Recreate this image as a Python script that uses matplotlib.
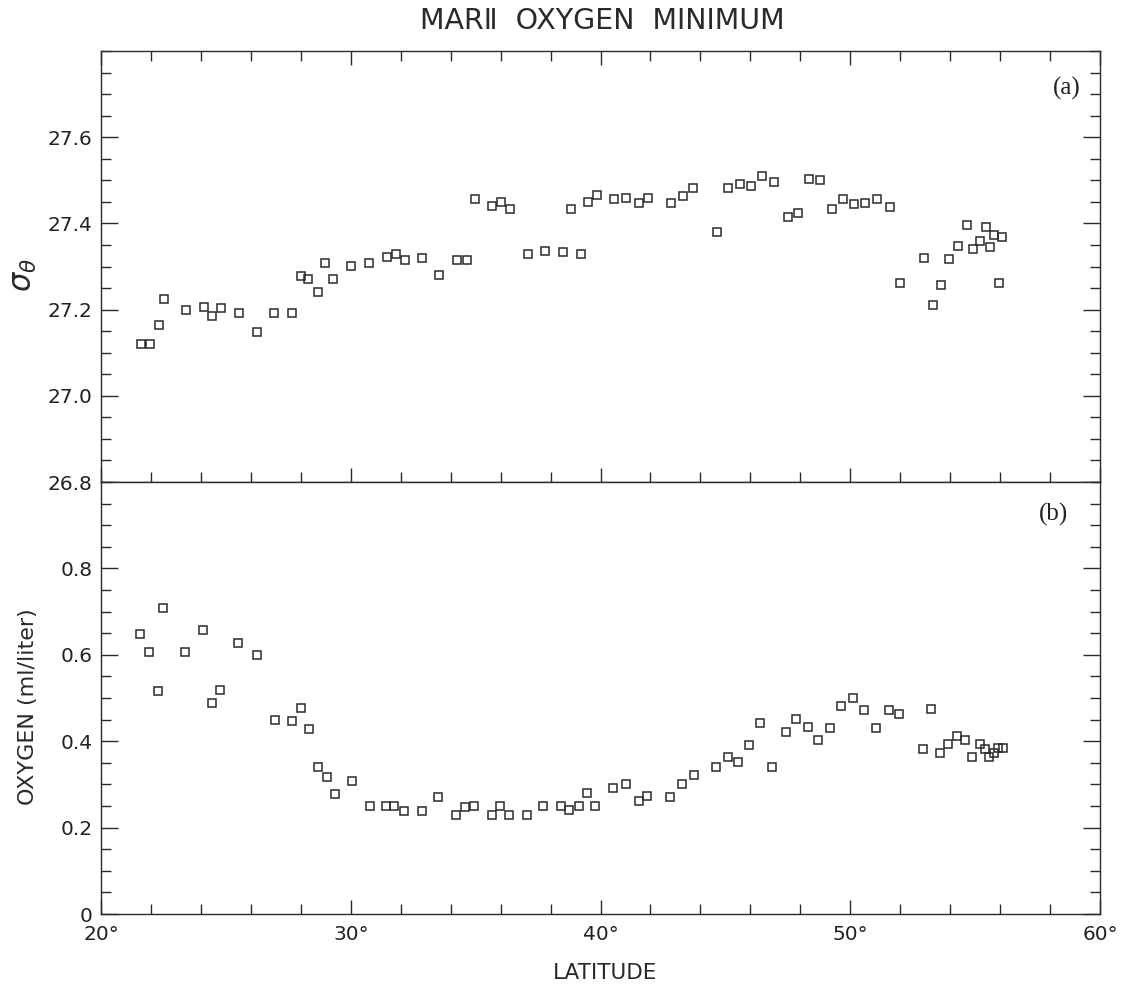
import matplotlib
matplotlib.use("Agg")
import matplotlib.pyplot as plt
from matplotlib.ticker import MultipleLocator, FixedLocator, FixedFormatter

# ---- data: panel (a) potential density at the oxygen minimum ----
lat_a = [21.60, 21.96, 22.32, 22.52, 23.41, 24.13, 24.46, 24.81, 25.53, 26.24,
         26.94, 27.65, 28.00, 28.29, 28.68, 28.97, 29.29, 30.02, 30.75, 31.46,
         31.81, 32.18, 32.87, 33.55, 34.26, 34.64, 34.96, 35.67, 36.00, 36.37,
         37.08, 37.76, 38.48, 38.80, 39.20, 39.50, 39.84, 40.56, 41.02, 41.55,
         41.90, 42.81, 43.29, 43.72, 44.67, 45.11, 45.57, 46.01, 46.47, 46.95,
         47.50, 47.90, 48.34, 48.78, 49.25, 49.70, 50.16, 50.60, 51.08, 51.61,
         52.01, 52.94, 53.31, 53.64, 53.97, 54.33, 54.67, 54.91, 55.20, 55.42,
         55.58, 55.74, 55.94, 56.07]
sigma_a = [27.120, 27.120, 27.165, 27.225, 27.200, 27.205, 27.185, 27.203, 27.191, 27.148,
           27.192, 27.192, 27.278, 27.271, 27.241, 27.309, 27.271, 27.302, 27.309, 27.322,
           27.328, 27.314, 27.319, 27.281, 27.315, 27.315, 27.457, 27.441, 27.450, 27.434,
           27.328, 27.337, 27.334, 27.434, 27.328, 27.450, 27.466, 27.457, 27.458, 27.447,
           27.460, 27.447, 27.463, 27.481, 27.380, 27.481, 27.491, 27.486, 27.509, 27.497,
           27.416, 27.424, 27.504, 27.501, 27.434, 27.456, 27.445, 27.447, 27.457, 27.437,
           27.261, 27.320, 27.210, 27.258, 27.318, 27.348, 27.396, 27.341, 27.360, 27.392,
           27.346, 27.373, 27.261, 27.369]

# ---- data: panel (b) oxygen at the minimum ----
lat_b = [21.57, 21.92, 22.28, 22.47, 23.36, 24.08, 24.44, 24.77, 25.48, 26.23,
         26.96, 27.64, 28.00, 28.31, 28.68, 29.03, 29.35, 30.05, 30.76, 31.43,
         31.72, 32.15, 32.84, 33.51, 34.23, 34.59, 34.94, 35.65, 35.99, 36.34,
         37.05, 37.70, 38.42, 38.75, 39.14, 39.45, 39.78, 40.50, 41.01, 41.56,
         41.88, 42.80, 43.27, 43.74, 44.63, 45.10, 45.50, 45.96, 46.40, 46.86,
         47.44, 47.84, 48.29, 48.70, 49.18, 49.64, 50.10, 50.57, 51.05, 51.56,
         51.97, 52.93, 53.23, 53.61, 53.93, 54.29, 54.61, 54.89, 55.21, 55.39,
         55.56, 55.75, 55.91, 56.10]
oxy_b = [0.647, 0.606, 0.517, 0.709, 0.607, 0.658, 0.489, 0.518, 0.628, 0.599,
         0.449, 0.447, 0.478, 0.428, 0.340, 0.318, 0.278, 0.309, 0.249, 0.249,
         0.249, 0.239, 0.239, 0.270, 0.229, 0.248, 0.249, 0.229, 0.250, 0.229,
         0.229, 0.249, 0.250, 0.240, 0.251, 0.280, 0.251, 0.291, 0.302, 0.262,
         0.272, 0.271, 0.301, 0.322, 0.341, 0.363, 0.351, 0.391, 0.442, 0.341,
         0.421, 0.451, 0.432, 0.403, 0.431, 0.481, 0.501, 0.472, 0.431, 0.472,
         0.463, 0.382, 0.475, 0.373, 0.394, 0.412, 0.403, 0.363, 0.394, 0.383,
         0.363, 0.373, 0.384, 0.384]

x_major = [20, 30, 40, 50, 60]
x_labels = ["20°", "30°", "40°", "50°", "60°"]
ya_major = [26.8, 27.0, 27.2, 27.4, 27.6]
ya_labels = ["26.8", "27.0", "27.2", "27.4", "27.6"]
yb_major = [0.0, 0.2, 0.4, 0.6, 0.8]
yb_labels = ["0", "0.2", "0.4", "0.6", "0.8"]

INK = "#2a2a2a"
plt.rcParams["font.family"] = ["DejaVu Sans"]

W, H = 1128, 984
fig = plt.figure(figsize=(W / 100, H / 100), dpi=100)

left, right = 101 / W, 1100 / W
ax_a = fig.add_axes([left, 1 - 482 / H, right - left, 431 / H])
ax_b = fig.add_axes([left, 1 - 914 / H, right - left, 432 / H])

mk = dict(linestyle="none", marker="s", markersize=6, markerfacecolor="none",
          markeredgecolor=INK, markeredgewidth=1.1)
ax_a.plot(lat_a, sigma_a, **mk)
ax_b.plot(lat_b, oxy_b, **mk)

ax_a.set_xlim(20, 60)
ax_b.set_xlim(20, 60)
ax_a.set_ylim(26.8, 27.8)
ax_b.set_ylim(0.0, 1.0)

for ax in (ax_a, ax_b):
    for s in ax.spines.values():
        s.set_color(INK)
        s.set_linewidth(1.0)
    ax.xaxis.set_major_locator(FixedLocator(x_major))
    ax.xaxis.set_minor_locator(MultipleLocator(2))
    ax.yaxis.set_minor_locator(MultipleLocator(0.05))
    ax.tick_params(which="both", direction="in", colors=INK, labelcolor="#222222",
                   labelsize=14.5, width=1.0)
    ax.tick_params(axis="x", which="major", length=10)
    ax.tick_params(axis="x", which="minor", length=7)
    ax.tick_params(axis="y", which="major", length=12, pad=6)
    ax.tick_params(axis="y", which="minor", length=7)
    ax.tick_params(axis="y", which="both", left=True, right=True)

ax_a.yaxis.set_major_locator(FixedLocator(ya_major))
ax_a.yaxis.set_major_formatter(FixedFormatter(ya_labels))
ax_b.yaxis.set_major_locator(FixedLocator(yb_major))
ax_b.yaxis.set_major_formatter(FixedFormatter(yb_labels))

ax_a.tick_params(axis="x", which="both", top=True, bottom=True, labelbottom=False)
ax_b.tick_params(axis="x", which="both", top=False, bottom=True, labelbottom=True, pad=8)
ax_b.xaxis.set_major_formatter(FixedFormatter(x_labels))

ax_a.set_ylabel(r"$\sigma_\theta$", fontsize=22, color=INK, va="center")
ax_a.yaxis.set_label_coords(-0.077, 0.48)
ax_b.set_ylabel("OXYGEN (ml/liter)", fontsize=16, color=INK, va="center")
ax_b.yaxis.set_label_coords(-0.073, 0.48)
ax_b.set_xlabel("LATITUDE", fontsize=15.5, color=INK, va="center")
ax_b.xaxis.set_label_coords(0.505, (914 - 973) / 432)

ax_a.text(1067 / W, 1 - 88 / H, "(a)", transform=fig.transFigure, ha="center",
          va="center", fontsize=18, family="Liberation Serif", color="#222222")
ax_b.text(1053 / W, 1 - 514 / H, "(b)", transform=fig.transFigure, ha="center",
          va="center", fontsize=18, family="Liberation Serif", color="#222222")

fig.text(602 / W, 1 - 21 / H, "MARⅡ  OXYGEN  MINIMUM", ha="center", va="center",
         fontsize=20.5, color=INK)

fig.savefig("out.png", dpi=100, facecolor="white")
